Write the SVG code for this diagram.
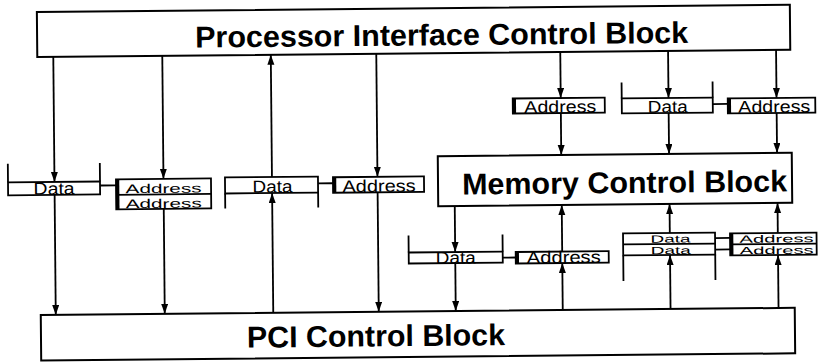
<svg xmlns="http://www.w3.org/2000/svg" width="819" height="362" viewBox="0 0 819 362">
<style>
.blk{fill:#fff;stroke:#000;stroke-width:2}
.reg{fill:#fff;stroke:#000;stroke-width:1.8}
.thk{stroke:#000;stroke-width:3.5}
.tick{stroke:#000;stroke-width:1.8;fill:none}
.big{font-family:"Liberation Sans",Arial,sans-serif;font-weight:bold;font-size:30px;fill:#000}
.lbl{font-family:"Liberation Sans",Arial,sans-serif;font-size:17px;fill:#000;text-anchor:middle}
.sm{font-size:12.5px}
.xs{font-size:10.5px}
.ln{stroke:#000;stroke-width:1.8;fill:none}
.arr{stroke:#000;stroke-width:1.8;fill:none;marker-end:url(#ah)}
</style>
<defs>
<marker id="ah" markerUnits="userSpaceOnUse" markerWidth="11" markerHeight="8" refX="10" refY="3.5" orient="auto">
<path d="M0,0 L10,3.5 L0,7 z" fill="#000"/>
</marker>
</defs>
<rect width="819" height="362" fill="#fff"/>
<g transform="rotate(-0.55 410 181)">
<g id="connectors">
<path class="arr" d="M54.5,53.5 V178.5"/>
<path class="arr" d="M54.5,191.5 V311.5"/>
<path class="arr" d="M163.5,53.5 V176.5"/>
<path class="arr" d="M163.5,206.5 V311.5"/>
<path class="arr" d="M272,311.5 V191.7"/>
<path class="arr" d="M272,175.7 V53.5"/>
<path class="arr" d="M377.5,53.5 V176.5"/>
<path class="arr" d="M377.5,192 V311.5"/>
<path class="arr" d="M454.5,206.5 V252.5"/>
<path class="arr" d="M454.5,263.5 V311.5"/>
<path class="arr" d="M561.5,53.5 V99.5"/>
<path class="arr" d="M561.5,114.5 V156.5"/>
<path class="arr" d="M561.5,311.5 V264.5"/>
<path class="arr" d="M561.5,253 V206.5"/>
<path class="arr" d="M669.3,53.5 V100.5"/>
<path class="arr" d="M669.3,115.5 V156.5"/>
<path class="arr" d="M669.3,311.5 V257.5"/>
<path class="arr" d="M669.3,235.5 V206.5"/>
<path class="arr" d="M777.3,53.5 V101.5"/>
<path class="arr" d="M777.3,116.5 V156.5"/>
<path class="arr" d="M777.3,311.5 V258.5"/>
<path class="arr" d="M777.3,236.5 V206.5"/>
<path class="ln" d="M100,182.5 H116"/>
<path class="ln" d="M318,182.5 H333"/>
<path class="ln" d="M502,258.5 H515"/>
<path class="ln" d="M713.5,107 H728.5"/>
<path class="ln" d="M714.5,241 H729.5"/>
<path class="ln" d="M714.5,252.5 H729.5"/>
</g>
<g id="processor-interface">
<rect class="blk" x="38.5" y="8.5" width="753" height="45"/>
<text class="big" x="196.5" y="45.5" textLength="493" lengthAdjust="spacingAndGlyphs">Processor Interface Control Block</text>
</g>
<g id="pci">
<rect class="blk" x="39.5" y="311.5" width="754" height="45.5"/>
<text class="big" x="245.5" y="346" textLength="258" lengthAdjust="spacingAndGlyphs">PCI Control Block</text>
</g>
<g id="memory">
<rect class="blk" x="438" y="156.5" width="354" height="50"/>
<text class="big" x="462" y="195" textLength="325" lengthAdjust="spacingAndGlyphs">Memory Control Block</text>
</g>
<g id="data-left">
<path class="tick" d="M8,160 V178.5 M100,160 V178.5"/>
<rect class="reg" x="8" y="178.5" width="92" height="13"/>
<text class="lbl" x="54" y="191" textLength="41" lengthAdjust="spacingAndGlyphs">Data</text>
</g>
<g id="address-left">
<rect class="reg" x="116" y="176.5" width="95" height="30"/>
<path class="tick" d="M116,192 H211"/>
<path class="thk" d="M117.5,176.5 V206.5"/>
<text class="lbl sm" x="163.5" y="190.5" textLength="76" lengthAdjust="spacingAndGlyphs">Address</text>
<text class="lbl sm" x="163.5" y="205.5" textLength="76" lengthAdjust="spacingAndGlyphs">Address</text>
</g>
<g id="data-mid">
<rect class="reg" x="225" y="175.7" width="93" height="16"/>
<path class="tick" d="M225,191.7 V206.7 M318,191.7 V206.7"/>
<text class="lbl" x="272.5" y="191" textLength="40" lengthAdjust="spacingAndGlyphs">Data</text>
</g>
<g id="address-mid">
<rect class="reg" x="333" y="176.5" width="91" height="15.5"/>
<path class="thk" d="M334.5,176.5 V192"/>
<text class="lbl" x="379" y="191.5" textLength="73" lengthAdjust="spacingAndGlyphs">Address</text>
</g>
<g id="data-mem-pci">
<path class="tick" d="M408,235.5 V252.5 M502,235.5 V252.5"/>
<rect class="reg" x="408" y="252.5" width="94" height="11"/>
<text class="lbl" x="455" y="264" textLength="40" lengthAdjust="spacingAndGlyphs">Data</text>
</g>
<g id="address-mem-pci">
<rect class="reg" x="515" y="253" width="93" height="11.5"/>
<path class="thk" d="M516.5,253 V264.5"/>
<text class="lbl" x="563" y="264.5" textLength="74" lengthAdjust="spacingAndGlyphs">Address</text>
</g>
<g id="data-pair">
<rect class="reg" x="622.5" y="235.5" width="92" height="22"/>
<path class="tick" d="M622.5,246.5 H714.5 M622.5,257.5 V283 M714.5,257.5 V283"/>
<text class="lbl xs" x="670" y="245" textLength="40" lengthAdjust="spacingAndGlyphs">Data</text>
<text class="lbl xs" x="670" y="256.5" textLength="40" lengthAdjust="spacingAndGlyphs">Data</text>
</g>
<g id="address-pair">
<rect class="reg" x="729.5" y="236.5" width="86.5" height="22"/>
<path class="tick" d="M729.5,247.5 H816"/>
<path class="thk" d="M731,236.5 V258.5"/>
<text class="lbl xs" x="776" y="246" textLength="74" lengthAdjust="spacingAndGlyphs">Address</text>
<text class="lbl xs" x="776" y="257.5" textLength="74" lengthAdjust="spacingAndGlyphs">Address</text>
</g>
<g id="address-proc-mem">
<rect class="reg" x="513.5" y="99.5" width="92" height="15"/>
<path class="thk" d="M515,99.5 V114.5"/>
<text class="lbl" x="561" y="114" textLength="72" lengthAdjust="spacingAndGlyphs">Address</text>
</g>
<g id="data-proc-mem">
<path class="tick" d="M622.5,84.5 V100.5 M713.5,84.5 V100.5"/>
<rect class="reg" x="622.5" y="100.5" width="91" height="15"/>
<text class="lbl" x="668.5" y="115" textLength="40" lengthAdjust="spacingAndGlyphs">Data</text>
</g>
<g id="address-proc-mem-2">
<rect class="reg" x="728.5" y="101.5" width="87.5" height="15"/>
<path class="thk" d="M730,101.5 V116.5"/>
<text class="lbl" x="775" y="116" textLength="72" lengthAdjust="spacingAndGlyphs">Address</text>
</g>
</g>
</svg>
